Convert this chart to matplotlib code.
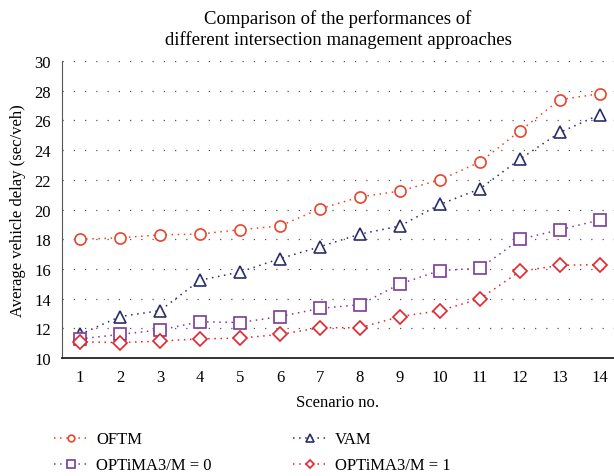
import numpy as np
import matplotlib
matplotlib.use("Agg")
import matplotlib.pyplot as plt

plt.rcParams['font.family'] = ['Liberation Serif', 'DejaVu Serif']

# ---- data ----
scenarios = list(range(1, 15))
oftm = [18.0, 18.1, 18.3, 18.35, 18.65, 18.9, 20.05, 20.85, 21.25, 22.0, 23.2, 25.3, 27.4, 27.8]
vam = [11.6, 12.8, 13.2, 15.25, 15.8, 16.7, 17.5, 18.35, 18.9, 20.35, 21.4, 23.4, 25.2, 26.4]
optima_m0 = [11.3, 11.6, 11.9, 12.45, 12.4, 12.8, 13.35, 13.6, 15.0, 15.9, 16.05, 18.0, 18.65, 19.3]
optima_m1 = [11.1, 11.05, 11.15, 11.3, 11.35, 11.6, 12.05, 12.05, 12.8, 13.2, 14.0, 15.85, 16.25, 16.3]

series = [
    ("OFTM", oftm, "#E8452C", "o", 8),
    ("VAM", vam, "#2A2D6B", "^", 9),
    ("OPTiMA3/M = 0", optima_m0, "#7A3C97", "s", 9),
    ("OPTiMA3/M = 1", optima_m1, "#E5232B", "D", 7.5),
]

fig = plt.figure(figsize=(6.14, 4.77), dpi=100)
ax = fig.add_axes([0.101, 0.247, 0.899, 0.623])

lines = {}
for label, vals, color, marker, ms in series:
    ln, = ax.plot(scenarios, vals, linestyle=(0, (1, 3)), color=color, linewidth=1.1,
                  marker=marker, markersize=ms, markerfacecolor='white',
                  markeredgecolor=color, markeredgewidth=1.2, label=label)
    lines[label] = ln

ax.set_xlim(0.55, 14.35)
ax.set_ylim(10, 30)
ax.set_xticks(scenarios)
ax.set_yticks(np.arange(10, 31, 2))
ax.tick_params(length=0, labelsize=12, pad=8)
ax.yaxis.grid(True, linestyle=(0, (1, 8)), color='#555555', linewidth=0.9)
ax.set_axisbelow(True)
for s in ['top', 'right']:
    ax.spines[s].set_visible(False)
ax.spines['left'].set_color('#555555')
ax.spines['bottom'].set_color('#222222')
ax.spines['bottom'].set_linewidth(1.3)

ax.set_xlabel("Scenario no.", fontsize=12, labelpad=6)
ax.set_ylabel("Average vehicle delay (sec/veh)", fontsize=12, labelpad=6)
ax.set_title("Comparison of the performances of\ndifferent intersection management approaches",
             fontsize=13.5, pad=12, linespacing=1.25)

# row-wise order: OFTM, VAM / M=0, M=1
order = ["OFTM", "OPTiMA3/M = 0", "VAM", "OPTiMA3/M = 1"]
fig.legend([lines[k] for k in order], order, loc='upper left', bbox_to_anchor=(0.064, 0.125),
           ncol=2, frameon=False, fontsize=12, columnspacing=4.9,
           handlelength=2.0, markerscale=0.6, labelspacing=0.6, handletextpad=0.5)

fig.savefig("out.png", dpi=100)
